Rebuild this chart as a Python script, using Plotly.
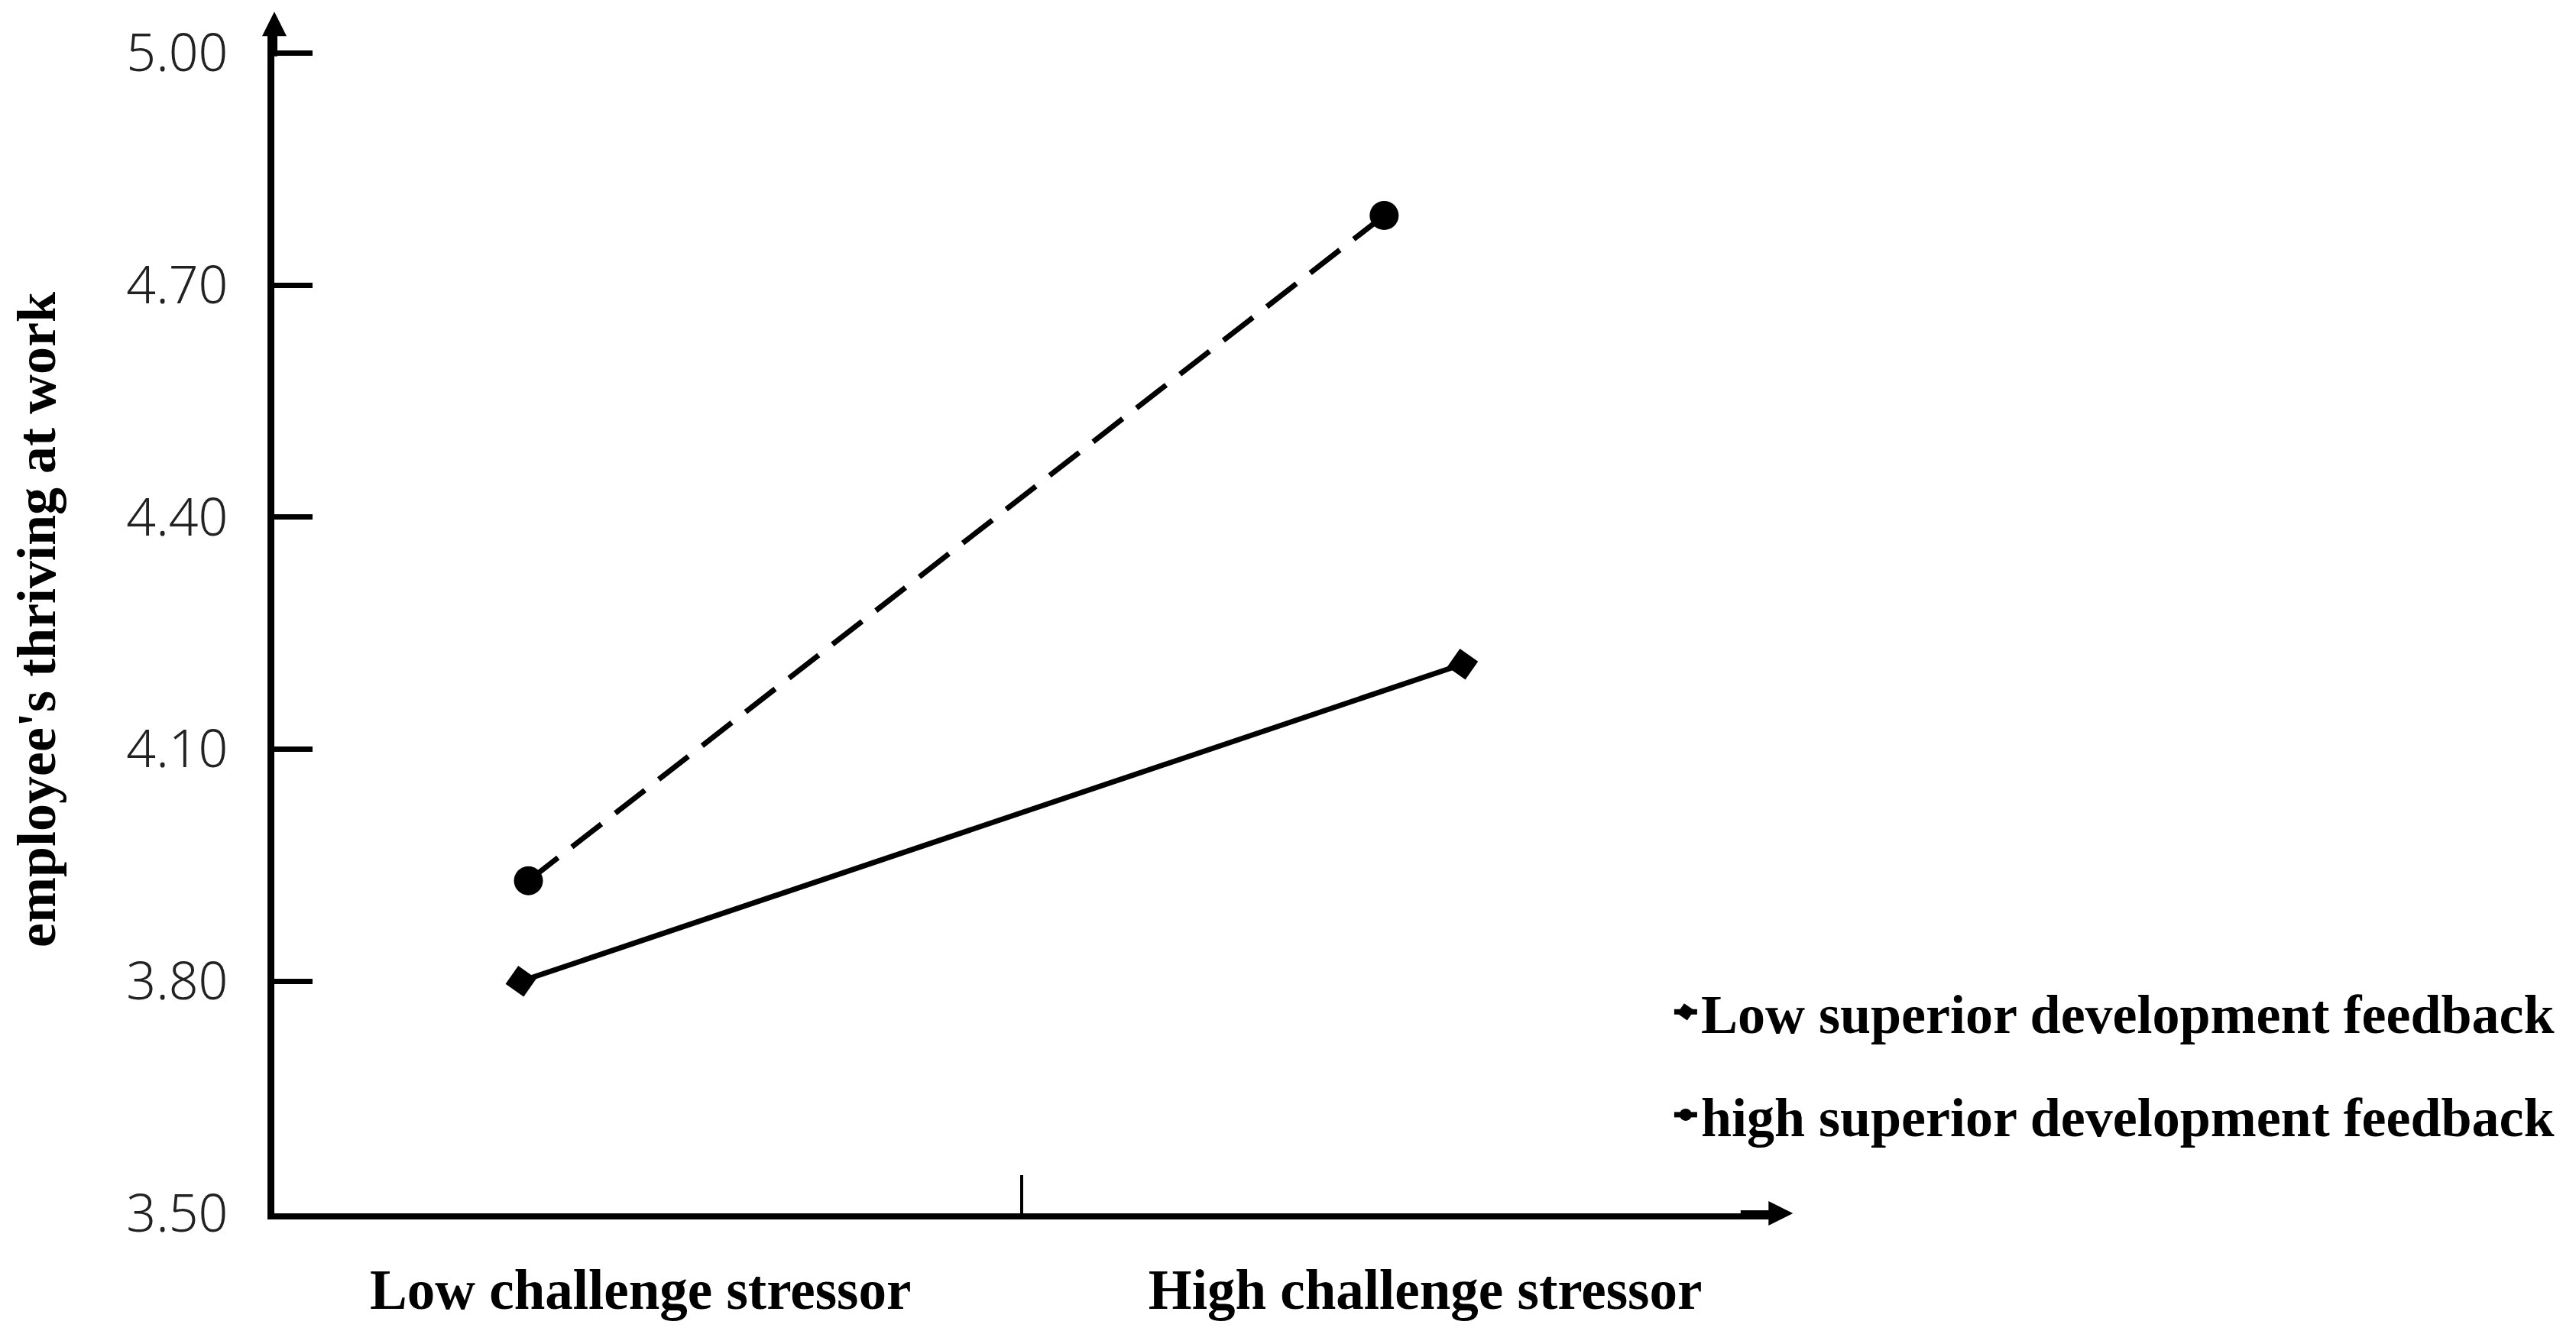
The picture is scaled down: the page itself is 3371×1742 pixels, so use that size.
import plotly.graph_objects as go

# x positions are in "category units": 0 = y axis, 1 = the split tick between the two groups
categories = ["Low challenge stressor", "High challenge stressor"]
category_pos = [0.49, 1.54]
split_pos = [1.0]

series_names = ["Low superior development feedback",
                "high superior development feedback"]
low_fb_x = [0.33, 1.59]
low_fb_y = [3.80, 4.21]
high_fb_x = [0.34, 1.485]
high_fb_y = [3.93, 4.79]

y_ticks = [3.50, 3.80, 4.10, 4.40, 4.70, 5.00]

SERIF = "Liberation Serif, Times New Roman, serif"
SANS = "Noto Sans, Open Sans, sans-serif"

fig = go.Figure()
fig.add_trace(go.Scatter(
    x=low_fb_x, y=low_fb_y, name=series_names[0], legendgroup="a",
    mode="lines+markers", cliponaxis=False,
    line=dict(color="black", width=7),
    marker=dict(symbol="square", size=29, angle=35, color="black")))
fig.add_trace(go.Scatter(
    x=high_fb_x, y=high_fb_y, name=series_names[1], legendgroup="b",
    mode="lines+markers", cliponaxis=False,
    line=dict(color="black", width=7, dash="49px,23px"),
    marker=dict(symbol="circle", size=38, color="black")))

# axis arrow heads
fig.add_annotation(xref="paper", yref="paper", x=0, y=1.012, ax=0, ay=60,
                   text="", showarrow=True, arrowhead=2, arrowsize=0.8,
                   arrowwidth=8, arrowcolor="black")
fig.add_annotation(xref="paper", yref="paper", x=1.016, y=0, ax=-70, ay=0,
                   text="", showarrow=True, arrowhead=2, arrowsize=0.8,
                   arrowwidth=8, arrowcolor="black")

# page body has an 8px margin, so the figure is a little smaller than the window
fig.update_layout(
    width=3355, height=1726,
    margin=dict(l=351, r=1048, t=26, b=146),
    paper_bgcolor="white", plot_bgcolor="white",
    showlegend=True,
    legend=dict(x=0.934, y=0.204, xanchor="left", yanchor="top",
                traceorder="grouped", tracegroupgap=38,
                bgcolor="rgba(0,0,0,0)",
                font=dict(family=SERIF, size=72, color="black", weight="bold")),
    xaxis=dict(range=[0, 2.0], showgrid=False, zeroline=False, automargin=False,
               showline=True, linecolor="black", linewidth=8,
               tickmode="array", tickvals=category_pos, ticktext=categories,
               ticks="", ticklabelstandoff=29,
               tickfont=dict(family=SERIF, size=73, color="black", weight="bold"),
               minor=dict(tickmode="array", tickvals=split_pos, ticks="inside",
                          ticklen=50, tickwidth=4, tickcolor="black",
                          showgrid=False)),
    yaxis=dict(range=[3.5, 5.035], showgrid=False, zeroline=False, automargin=False,
               showline=True, linecolor="black", linewidth=9,
               tickmode="array", tickvals=y_ticks,
               ticktext=["%.2f" % v for v in y_ticks],
               ticks="inside", ticklen=50, tickwidth=7, tickcolor="black",
               ticklabelstandoff=38,
               tickfont=dict(family=SANS, size=68, color="#222", weight=300),
               title=dict(text="employee's thriving at work", standoff=134,
                          font=dict(family=SERIF, size=72, color="black",
                                    weight="bold"))),
)

fig.write_html("out.html")
